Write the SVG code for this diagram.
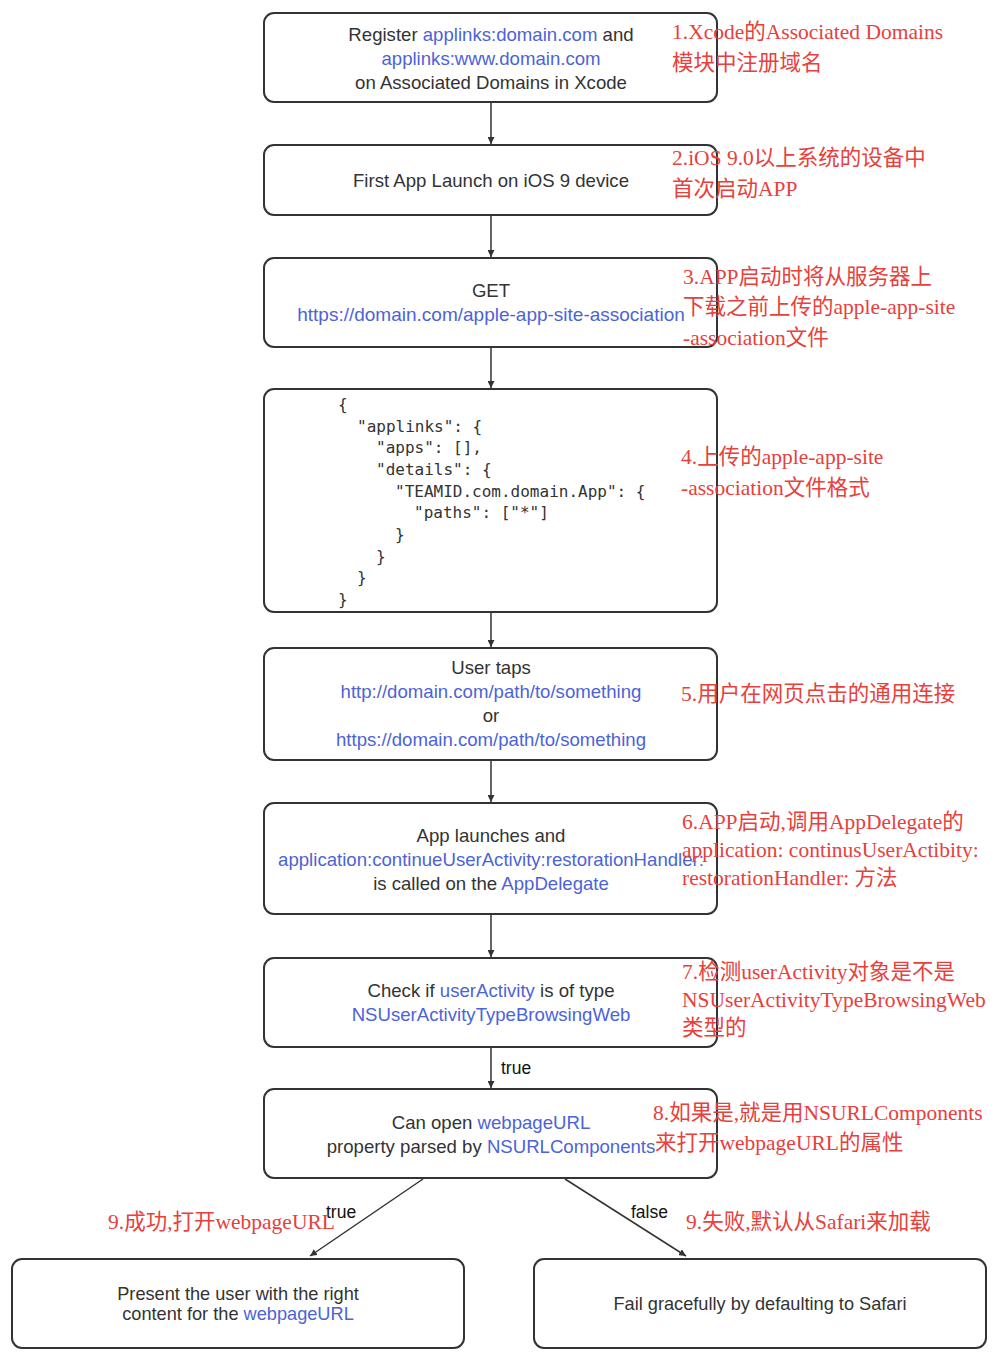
<svg xmlns="http://www.w3.org/2000/svg" width="1000" height="1362" viewBox="0 0 1000 1362">
<defs>
<marker id="ah" viewBox="0 0 10 10" refX="10" refY="5" markerWidth="7" markerHeight="7" markerUnits="userSpaceOnUse" orient="auto">
<path d="M0,0 L10,5 L0,10 z" fill="#333"/>
</marker>
</defs>
<style>
.box{fill:#fff;stroke:#333;stroke-width:2}
.t{font-family:"Liberation Sans",Arial,sans-serif;font-size:18.6px;fill:#333;text-anchor:middle}
.s{font-size:18.2px}
.b{fill:#4c63d8}
.m{font-family:"DejaVu Sans Mono",monospace;font-size:16px;fill:#333}
.r{font-family:"Liberation Serif","Noto Sans CJK SC",serif;font-size:21.5px;fill:#e8403c}
.l{font-family:"Liberation Sans",Arial,sans-serif;font-size:17.5px;fill:#111}
.c{stroke:#333;stroke-width:1.5;fill:none;marker-end:url(#ah)}
</style>
<rect width="1000" height="1362" fill="#fff"/>
<g id="connectors">
<line class="c" x1="491" y1="102" x2="491" y2="144"/>
<line class="c" x1="491" y1="215" x2="491" y2="257"/>
<line class="c" x1="491" y1="347" x2="491" y2="388"/>
<line class="c" x1="491" y1="612" x2="491" y2="647"/>
<line class="c" x1="491" y1="760" x2="491" y2="802"/>
<line class="c" x1="491" y1="914" x2="491" y2="957"/>
<line class="c" x1="491" y1="1047" x2="491" y2="1088"/>
<line class="c" x1="423" y1="1179" x2="310" y2="1256"/>
<line class="c" x1="565" y1="1179" x2="686" y2="1256"/>
<text class="l" x="501" y="1074">true</text>
<text class="l" x="326" y="1218">true</text>
<text class="l" x="631" y="1218">false</text>
</g>
<g id="n1">
<rect class="box" x="264" y="13" width="453" height="89" rx="10"/>
<text class="t" x="491" y="41">Register <tspan class="b">applinks:domain.com</tspan> and</text>
<text class="t b" x="491" y="65">applinks:www.domain.com</text>
<text class="t" x="491" y="89">on Associated Domains in Xcode</text>
</g>
<g id="n2">
<rect class="box" x="264" y="145" width="453" height="70" rx="10"/>
<text class="t" x="491" y="187">First App Launch on iOS 9 device</text>
</g>
<g id="n3">
<rect class="box" x="264" y="258" width="453" height="89" rx="10"/>
<text class="t" x="491" y="297">GET</text>
<text class="t b" x="491" y="321" style="font-size:19px">https://domain.com/apple-app-site-association</text>
</g>
<g id="n4">
<rect class="box" x="264" y="389" width="453" height="223" rx="10"/>
<text class="m" x="338" y="410">{</text>
<text class="m" x="357" y="432">"applinks": {</text>
<text class="m" x="376" y="453">"apps": [],</text>
<text class="m" x="376" y="475">"details": {</text>
<text class="m" x="395" y="497">"TEAMID.com.domain.App": {</text>
<text class="m" x="414" y="518">"paths": ["*"]</text>
<text class="m" x="395" y="540">}</text>
<text class="m" x="376" y="562">}</text>
<text class="m" x="357" y="583">}</text>
<text class="m" x="338" y="605">}</text>
</g>
<g id="n5">
<rect class="box" x="264" y="648" width="453" height="112" rx="10"/>
<text class="t" x="491" y="674">User taps</text>
<text class="t b" x="491" y="698">http://domain.com/path/to/something</text>
<text class="t" x="491" y="722">or</text>
<text class="t b" x="491" y="746">https://domain.com/path/to/something</text>
</g>
<g id="n6">
<rect class="box" x="264" y="803" width="453" height="111" rx="10"/>
<text class="t" x="491" y="842">App launches and</text>
<text class="t b" x="491" y="866">application:continueUserActivity:restorationHandler:</text>
<text class="t" x="491" y="890">is called on the <tspan class="b">AppDelegate</tspan></text>
</g>
<g id="n7">
<rect class="box" x="264" y="958" width="453" height="89" rx="10"/>
<text class="t" x="491" y="997">Check if <tspan class="b">userActivity</tspan> is of type</text>
<text class="t b" x="491" y="1021">NSUserActivityTypeBrowsingWeb</text>
</g>
<g id="n8">
<rect class="box" x="264" y="1089" width="453" height="89" rx="10"/>
<text class="t" x="491" y="1129">Can open <tspan class="b">webpageURL</tspan></text>
<text class="t" x="491" y="1153">property parsed by <tspan class="b">NSURLComponents</tspan></text>
</g>
<g id="n9a">
<rect class="box" x="12" y="1259" width="452" height="89" rx="10"/>
<text class="t s" x="238" y="1300">Present the user with the right</text>
<text class="t s" x="238" y="1320">content for the <tspan class="b">webpageURL</tspan></text>
</g>
<g id="n9b">
<rect class="box" x="534" y="1259" width="452" height="89" rx="10"/>
<text class="t s" x="760" y="1310">Fail gracefully by defaulting to Safari</text>
</g>
<g id="notes">
<text class="r" x="672" y="39">1.Xcode的Associated Domains</text>
<text class="r" x="672" y="70">模块中注册域名</text>
<text class="r" x="672" y="165">2.iOS 9.0以上系统的设备中</text>
<text class="r" x="672" y="196">首次启动APP</text>
<text class="r" x="683" y="284">3.APP启动时将从服务器上</text>
<text class="r" x="683" y="314">下载之前上传的apple-app-site</text>
<text class="r" x="683" y="345">-association文件</text>
<text class="r" x="681" y="464">4.上传的apple-app-site</text>
<text class="r" x="681" y="495">-association文件格式</text>
<text class="r" x="681" y="701">5.用户在网页点击的通用连接</text>
<text class="r" x="682" y="829">6.APP启动,调用AppDelegate的</text>
<text class="r" x="682" y="857">application: continusUserActibity:</text>
<text class="r" x="682" y="885">restorationHandler: 方法</text>
<text class="r" x="682" y="979">7.检测userActivity对象是不是</text>
<text class="r" x="682" y="1007">NSUserActivityTypeBrowsingWeb</text>
<text class="r" x="682" y="1035">类型的</text>
<text class="r" x="653" y="1120">8.如果是,就是用NSURLComponents</text>
<text class="r" x="655" y="1150">来打开webpageURL的属性</text>
<text class="r" x="108" y="1229">9.成功,打开webpageURL</text>
<text class="r" x="686" y="1229">9.失败,默认从Safari来加载</text>
</g>
</svg>
